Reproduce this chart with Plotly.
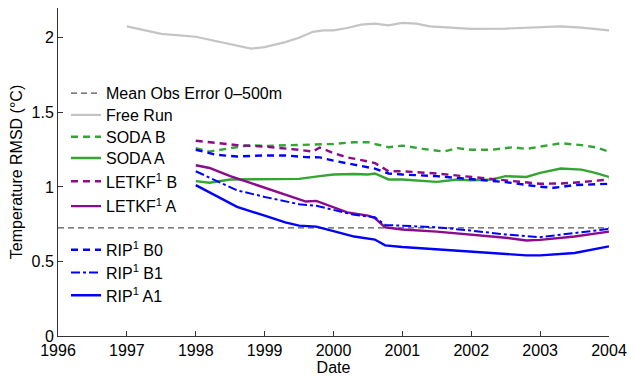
import plotly.graph_objects as go

# Decimal-year sample times and RMSD values (°C) for each run
free_t = [1997.0, 1997.5, 1998.0, 1998.3, 1998.5, 1998.8, 1999.0, 1999.3, 1999.5, 1999.7, 1999.85,
          2000.0, 2000.2, 2000.4, 2000.6, 2000.8, 2001.0, 2001.2, 2001.4, 2001.7, 2002.0, 2002.5,
          2003.0, 2003.3, 2003.6, 2004.0]
free_v = [2.077, 2.026, 2.007, 1.978, 1.956, 1.927, 1.938, 1.971, 2.0, 2.04, 2.05,
          2.05, 2.066, 2.088, 2.095, 2.084, 2.1, 2.095, 2.077, 2.066, 2.06, 2.062,
          2.07, 2.077, 2.068, 2.05]

soda_b_t = [1998.0, 1998.2, 1998.5, 1998.8, 1999.0, 1999.5, 2000.0, 2000.3, 2000.5, 2000.8, 2001.0,
            2001.3, 2001.6, 2001.8, 2002.0, 2002.3, 2002.6, 2002.8, 2003.0, 2003.3, 2003.6, 2003.8, 2004.0]
soda_b_v = [1.26, 1.237, 1.26, 1.28, 1.275, 1.28, 1.288, 1.30, 1.30, 1.266, 1.277,
            1.255, 1.237, 1.26, 1.249, 1.249, 1.266, 1.255, 1.27, 1.293, 1.28, 1.266, 1.237]

soda_a_t = [1998.0, 1998.2, 1998.5, 1999.0, 1999.5, 1999.8, 2000.0, 2000.3, 2000.5, 2000.6, 2000.8,
            2001.0, 2001.3, 2001.5, 2001.8, 2002.0, 2002.3, 2002.5, 2002.8, 2003.0, 2003.3, 2003.6,
            2003.8, 2004.0]
soda_a_v = [1.039, 1.028, 1.05, 1.054, 1.054, 1.072, 1.083, 1.087, 1.083, 1.09, 1.05,
            1.05, 1.043, 1.034, 1.05, 1.045, 1.05, 1.072, 1.067, 1.094, 1.123, 1.116,
            1.094, 1.067]

letkf_b_t = [1998.0, 1998.3, 1998.6, 1999.0, 1999.3, 1999.5, 1999.7, 1999.8, 2000.0, 2000.2, 2000.5,
             2000.6, 2000.8, 2001.0, 2001.5, 2002.0, 2002.3, 2002.6, 2003.0, 2003.3, 2003.6, 2004.0]
letkf_b_v = [1.31, 1.293, 1.28, 1.27, 1.26, 1.249, 1.237, 1.264, 1.227, 1.198, 1.171,
             1.16, 1.105, 1.105, 1.09, 1.067, 1.054, 1.039, 1.021, 1.023, 1.032, 1.05]

letkf_a_t = [1998.0, 1998.2, 1998.5, 1999.0, 1999.3, 1999.6, 1999.75, 2000.0, 2000.2, 2000.5, 2000.6,
             2000.75, 2001.0, 2001.5, 2002.0, 2002.5, 2002.8, 2003.0, 2003.5, 2004.0]
letkf_a_v = [1.145, 1.127, 1.072, 0.994, 0.95, 0.902, 0.906, 0.866, 0.829, 0.807, 0.791,
             0.729, 0.714, 0.70, 0.681, 0.659, 0.641, 0.645, 0.667, 0.70]

rip_b0_t = [1998.0, 1998.3, 1998.6, 1999.0, 1999.3, 1999.6, 1999.8, 2000.0, 2000.3, 2000.6, 2000.8,
            2001.0, 2001.5, 2002.0, 2002.5, 2003.0, 2003.2, 2003.5, 2004.0]
rip_b0_v = [1.249, 1.215, 1.204, 1.211, 1.211, 1.2, 1.198, 1.176, 1.149, 1.123, 1.09,
            1.083, 1.072, 1.05, 1.032, 1.001, 0.994, 1.012, 1.021]

rip_b1_t = [1998.0, 1998.3, 1998.6, 1999.0, 1999.5, 1999.75, 2000.0, 2000.3, 2000.6, 2000.75, 2001.0,
            2001.5, 2002.0, 2002.5, 2003.0, 2003.5, 2004.0]
rip_b1_v = [1.105, 1.039, 0.977, 0.933, 0.884, 0.873, 0.844, 0.813, 0.796, 0.745, 0.74,
            0.729, 0.707, 0.681, 0.663, 0.69, 0.718]

rip_a1_t = [1998.0, 1998.3, 1998.6, 1999.0, 1999.3, 1999.5, 1999.75, 2000.0, 2000.3, 2000.6, 2000.75,
            2001.0, 2001.5, 2002.0, 2002.5, 2002.8, 2003.0, 2003.5, 2004.0]
rip_a1_v = [1.012, 0.939, 0.866, 0.807, 0.762, 0.74, 0.734, 0.703, 0.667, 0.647, 0.608,
            0.597, 0.581, 0.570, 0.552, 0.541, 0.541, 0.557, 0.601]

obs_err_t = [1996.0, 2004.0]
obs_err_v = [0.725, 0.725]

x_ticks = [1996, 1997, 1998, 1999, 2000, 2001, 2002, 2003, 2004]
y_ticks = [0, 0.5, 1, 1.5, 2]
y_tick_text = ["0", "0.5", "1", "1.5", "2"]

GREEN = "#33a532"
PURPLE = "#8c0a8c"
BLUE = "#0000ff"
GREY = "#c4c4c4"
FONT = "Liberation Sans"
FS = 16

# name, x, y, colour, width, dash, legend row centre (px from top)
series = [
    ("Mean Obs Error 0\u2013500m", obs_err_t, obs_err_v, "#555555", 1.2, "6px,4px", 94),
    ("Free Run", free_t, free_v, GREY, 2.2, "solid", 116),
    ("SODA B", soda_b_t, soda_b_v, GREEN, 2.4, "7px,5px", 138),
    ("SODA A", soda_a_t, soda_a_v, GREEN, 2.4, "solid", 159.5),
    ("LETKF<sup>1</sup> B", letkf_b_t, letkf_b_v, PURPLE, 2.4, "7px,5px", 183),
    ("LETKF<sup>1</sup> A", letkf_a_t, letkf_a_v, PURPLE, 2.4, "solid", 208),
    ("RIP<sup>1</sup> B0", rip_b0_t, rip_b0_v, BLUE, 2.4, "7px,5px", 252),
    ("RIP<sup>1</sup> B1", rip_b1_t, rip_b1_v, BLUE, 2.0, "dashdot", 275),
    ("RIP<sup>1</sup> A1", rip_a1_t, rip_a1_v, BLUE, 2.4, "solid", 298),
]

W, H = 635, 378
L, R, T, B = 58, 26, 8, 39
plot_h = H - T - B

fig = go.Figure()
legends = {}
# Obs-error reference line first, then the runs; each row gets its own legend box
for i, (name, xs, ys, col, w, dash, ly) in enumerate(series):
    key = "legend" if i == 0 else f"legend{i + 1}"
    fig.add_trace(go.Scatter(
        x=xs, y=ys, mode="lines", name=name,
        line=dict(color=col, width=w, dash=dash),
        legend=key, showlegend=True,
    ))
    legends[key] = dict(
        x=(66 - L) / (W - L - R), xanchor="left",
        y=1 - (ly - T) / plot_h, yanchor="middle",
        bgcolor="rgba(0,0,0,0)", borderwidth=0,
        font=dict(family=FONT, size=FS, color="#000"),
        itemwidth=30, visible=True,
    )

fig.update_layout(
    width=W, height=H,
    margin=dict(l=L, r=R, t=T, b=B),
    paper_bgcolor="white", plot_bgcolor="white",
    font=dict(family=FONT, size=FS, color="#000"),
    showlegend=True,
    **legends,
)
fig.update_xaxes(
    range=[1996, 2004], tickvals=x_ticks, ticktext=[str(v) for v in x_ticks],
    showgrid=False, zeroline=False, showline=True, linecolor="#333", linewidth=1,
    ticks="inside", ticklen=5, tickcolor="#333",
    title=dict(text="Date", standoff=0, font=dict(size=FS)),
    tickfont=dict(size=FS),
)
fig.update_yaxes(
    range=[0, 2.2], tickvals=y_ticks, ticktext=y_tick_text,
    showgrid=False, zeroline=False, showline=True, linecolor="#333", linewidth=1,
    ticks="inside", ticklen=5, tickcolor="#333",
    title=dict(text="Temperature RMSD (\u00b0C)", standoff=4, font=dict(size=FS)),
    tickfont=dict(size=FS),
)

fig.write_html("out.html")
